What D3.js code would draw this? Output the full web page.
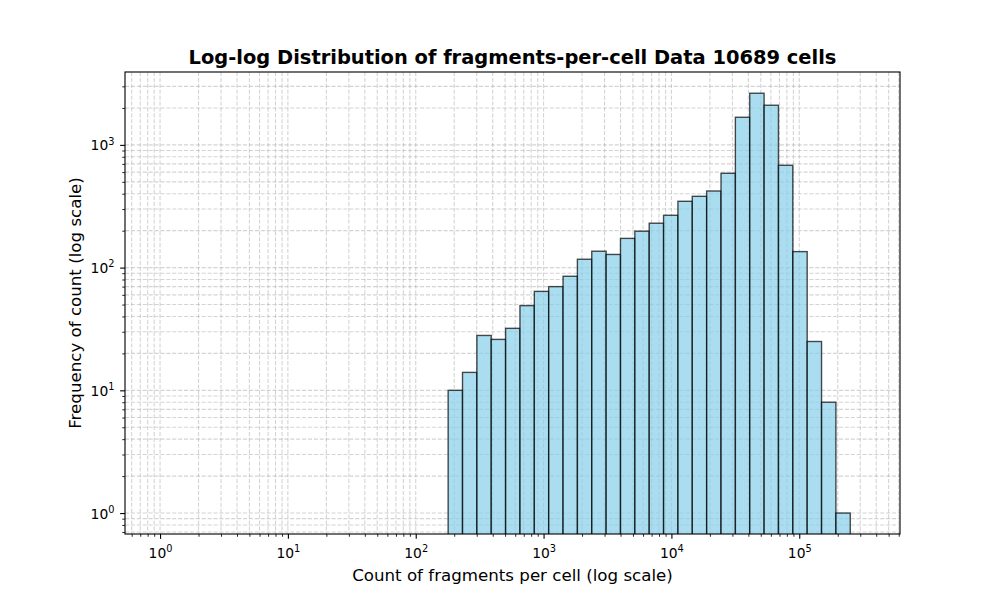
<!DOCTYPE html>
<html>
<head>
<meta charset="utf-8">
<script src="https://cdn.jsdelivr.net/npm/d3@7"></script>
<style>
  body { margin: 0; background: #fff; }
  svg text { font-family: "DejaVu Sans", sans-serif; }
</style>
</head>
<body>
<div id="output"></div>
<script>
// Histogram of fragments per cell, log-spaced bins
const binStart = 179.3;      // left edge of first bin
const binEnd = 250600;       // right edge of last bin
const counts = [10, 14, 28, 26, 32, 49, 64, 70, 85, 117, 136, 128, 173, 198, 230,
                267, 347, 381, 421, 587, 1679, 2636, 2104, 682, 135, 25, 8, 1];

// Axis ticks
const xMajor = [1, 10, 100, 1000, 10000, 100000];
const yMajor = [1, 10, 100, 1000];
const xDecades = [0.1, 1, 10, 100, 1000, 10000, 100000];
const yDecades = [0.1, 1, 10, 100, 1000];
const minorMult = [2, 3, 4, 5, 6, 7, 8, 9];
const expLabels = ["0", "1", "2", "3", "4", "5"];

function PlotGraph(parent_element = "output") {
  const W = 1000, H = 600;
  const margin = {top: 72, right: 100, bottom: 66, left: 125};
  const width = W - margin.left - margin.right;
  const height = H - margin.top - margin.bottom;

  const x = d3.scaleLog().domain([0.532, 613800]).range([0, width]);
  const y = d3.scaleLog().domain([0.675, 3926]).range([height, 0]);

  const svg = d3.select("#" + parent_element).append("svg")
    .attr("width", W)
    .attr("height", H);

  const g = svg.append("g")
    .attr("transform", `translate(${margin.left},${margin.top})`);

  g.append("clipPath").attr("id", "clip")
    .append("rect").attr("width", width).attr("height", height);

  // minor tick values
  const inX = v => v >= x.domain()[0] && v <= x.domain()[1];
  const inY = v => v >= y.domain()[0] && v <= y.domain()[1];
  const xMinor = xDecades.flatMap(d => minorMult.map(m => d * m)).filter(inX);
  const yMinor = yDecades.flatMap(d => minorMult.map(m => d * m)).filter(inY);

  // Grid (major + minor), dashed
  const grid = g.append("g").attr("clip-path", "url(#clip)");
  grid.selectAll(".gx")
    .data(xMajor.concat(xMinor))
    .enter().append("line")
    .attr("x1", d => x(d)).attr("x2", d => x(d))
    .attr("y1", 0).attr("y2", height)
    .attr("stroke", "#b0b0b0").attr("stroke-opacity", 0.55)
    .attr("stroke-width", 1.1).attr("stroke-dasharray", "4.1,1.8");
  grid.selectAll(".gy")
    .data(yMajor.concat(yMinor))
    .enter().append("line")
    .attr("y1", d => y(d)).attr("y2", d => y(d))
    .attr("x1", 0).attr("x2", width)
    .attr("stroke", "#b0b0b0").attr("stroke-opacity", 0.55)
    .attr("stroke-width", 1.1).attr("stroke-dasharray", "4.1,1.8");

  // Bin edges evenly spaced in log space
  const nb = counts.length;
  const l0 = Math.log10(binStart), l1 = Math.log10(binEnd);
  const edge = i => Math.pow(10, l0 + (l1 - l0) * i / nb);

  g.append("g").attr("clip-path", "url(#clip)")
    .selectAll("rect")
    .data(counts)
    .enter().append("rect")
    .attr("x", (d, i) => x(edge(i)))
    .attr("width", (d, i) => x(edge(i + 1)) - x(edge(i)))
    .attr("y", d => y(d))
    .attr("height", d => height + 5 - y(d))
    .attr("fill", "#87ceeb").attr("fill-opacity", 0.7)
    .attr("stroke", "#000").attr("stroke-opacity", 0.7)
    .attr("stroke-width", 1.39);

  // Axes
  const fmt = d => "";
  const xMinorAxis = g.append("g")
    .attr("transform", `translate(0,${height})`)
    .call(d3.axisBottom(x).tickValues(xMinor).tickSize(2.78).tickFormat(fmt));
  const xAxis = g.append("g")
    .attr("transform", `translate(0,${height})`)
    .call(d3.axisBottom(x).tickValues(xMajor).tickSize(4.86).tickFormat(fmt));
  const yMinorAxis = g.append("g")
    .call(d3.axisLeft(y).tickValues(yMinor).tickSize(2.78).tickFormat(fmt));
  const yAxis = g.append("g")
    .call(d3.axisLeft(y).tickValues(yMajor).tickSize(4.86).tickFormat(fmt));

  [xMinorAxis, xAxis, yMinorAxis, yAxis].forEach(a => {
    a.select(".domain").remove();
    a.selectAll(".tick line").attr("stroke", "#000").attr("stroke-width", 0.83);
  });
  xAxis.selectAll(".tick line").attr("stroke-width", 1.11);
  yAxis.selectAll(".tick line").attr("stroke-width", 1.11);

  // power-of-ten tick labels
  xAxis.selectAll(".tick text").remove();
  xAxis.selectAll(".tick").append("text")
    .attr("y", 24).attr("x", 0)
    .attr("text-anchor", "middle")
    .attr("fill", "#000")
    .style("font-size", "13.89px")
    .each(function(d, i) {
      const t = d3.select(this);
      t.append("tspan").text("10");
      t.append("tspan").attr("dy", -5.8).style("font-size", "9.8px").text(expLabels[i]);
    });
  yAxis.selectAll(".tick text").remove();
  yAxis.selectAll(".tick").append("text")
    .attr("x", -10.5).attr("y", 5)
    .attr("text-anchor", "end")
    .attr("fill", "#000")
    .style("font-size", "13.89px")
    .each(function(d, i) {
      const t = d3.select(this);
      t.append("tspan").text("10");
      t.append("tspan").attr("dy", -5.8).style("font-size", "9.8px").text(expLabels[i]);
    });

  // Frame
  g.append("rect")
    .attr("width", width).attr("height", height)
    .attr("fill", "none").attr("stroke", "#000").attr("stroke-width", 1.11);

  // Title
  svg.append("text")
    .attr("x", margin.left + width / 2)
    .attr("y", 64)
    .attr("text-anchor", "middle")
    .style("font-size", "19.44px")
    .style("font-weight", "bold")
    .text("Log-log Distribution of fragments-per-cell Data 10689 cells");

  // X axis label
  svg.append("text")
    .attr("x", margin.left + width / 2)
    .attr("y", 581)
    .attr("text-anchor", "middle")
    .style("font-size", "16.67px")
    .text("Count of fragments per cell (log scale)");

  // Y axis label
  svg.append("text")
    .attr("transform", `translate(81,${margin.top + height / 2}) rotate(-90)`)
    .attr("text-anchor", "middle")
    .style("font-size", "16.67px")
    .text("Frequency of count (log scale)");
}

document.addEventListener('DOMContentLoaded', (event) => {
  PlotGraph();
});
</script>
</body>
</html>
